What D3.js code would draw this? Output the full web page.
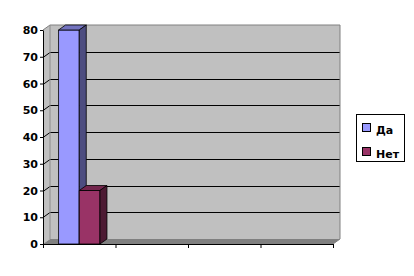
<!DOCTYPE html>
<html>
<head>
<meta charset="utf-8">
<script src="https://cdn.jsdelivr.net/npm/d3@7"></script>
<style>
  html, body { margin: 0; padding: 0; background: #fff; }
  svg { display: block; }
</style>
</head>
<body>
<script>
const WIDTH = 414
const HEIGHT = 276

// Data
const categories = [1, 2, 3, 4]
const series = ["Да", "Нет"]
const daValues = [80, null, null, null]
const netValues = [20, null, null, null]
const yTicks = [0, 10, 20, 30, 40, 50, 60, 70, 80]

const colors = {
  "Да": { front: "#9999ff", top: "#7373bf", side: "#4d4d80" },
  "Нет": { front: "#993366", top: "#73264d", side: "#4d1a33" }
}

// Constants
const margin = { top: 30, right: 81, bottom: 32, left: 43 }
const depthX = 7
const depthY = 5
const font = "'DejaVu Sans', Arial, sans-serif"

const x0 = d3.scaleBand(categories, [margin.left, WIDTH - margin.right])
const x1 = d3.scaleBand(series, [0, x0.bandwidth()]).paddingOuter(0.75)
const xEdge = d3.scaleLinear([0, categories.length], [margin.left, WIDTH - margin.right])
const y = d3.scaleLinear([0, 80], [HEIGHT - margin.bottom, margin.top])

const rows = series.flatMap((s, si) => categories.map((c, ci) => ({
  s, c, v: (si === 0 ? daValues : netValues)[ci]
}))).filter(d => d.v != null)

// Render
const svg = d3.select("body").append("svg")
  .attr("width", WIDTH)
  .attr("height", HEIGHT)
  .attr("viewBox", [0, 0, WIDTH, HEIGHT])

const x0L = xEdge(0), x0R = xEdge(categories.length)
const yB = y(0), yT = y(80)

// walls
svg.append("polygon")
  .attr("points", [[x0L, yB], [x0L, yT], [x0L + depthX, yT - depthY], [x0L + depthX, yB - depthY]].join(" "))
  .attr("fill", "#c0c0c0")

svg.append("rect")
  .attr("x", x0L + depthX)
  .attr("y", yT - depthY)
  .attr("width", x0R - x0L)
  .attr("height", yB - yT)
  .attr("fill", "#c0c0c0")

svg.append("polygon")
  .attr("points", [[x0L, yB], [x0L + depthX, yB - depthY], [x0R + depthX, yB - depthY], [x0R, yB]].join(" "))
  .attr("fill", "#808080")

// gridlines
svg.append("g")
  .attr("fill", "none")
  .attr("stroke", "#000")
  .selectAll("polyline")
  .data(yTicks.filter(t => t > 0 && t < 80))
  .join("polyline")
    .attr("points", t => {
      const yy = Math.round(y(t)) + 0.5
      return [[x0L, yy], [x0L + depthX, yy - depthY], [x0R + depthX, yy - depthY]].join(" ")
    })

// wall borders
svg.append("polyline")
  .attr("points", [[x0L, yT], [x0L + depthX, yT - depthY], [x0R + depthX, yT - depthY], [x0R + depthX, yB - depthY], [x0R, yB]].join(" "))
  .attr("fill", "none")
  .attr("stroke", "#808080")

svg.append("line")
  .attr("x1", x0L + depthX).attr("x2", x0L + depthX)
  .attr("y1", yT - depthY).attr("y2", yB - depthY)
  .attr("stroke", "#8c8c8c")

// bars
const bars = svg.append("g")
  .attr("stroke", "#000")
  .attr("stroke-width", 0.8)
  .attr("stroke-linejoin", "round")
  .selectAll("g")
  .data(rows)
  .join("g")

const bx = d => x0(d.c) + x1(d.s)
const bw = x1.bandwidth()

bars.append("rect")
  .attr("x", bx)
  .attr("y", d => y(d.v))
  .attr("width", bw)
  .attr("height", d => y(0) - y(d.v))
  .attr("fill", d => colors[d.s].front)

bars.append("polygon")
  .attr("points", d => [[bx(d), y(d.v)], [bx(d) + depthX, y(d.v) - depthY], [bx(d) + bw + depthX, y(d.v) - depthY], [bx(d) + bw, y(d.v)]].join(" "))
  .attr("fill", d => colors[d.s].top)

bars.append("polygon")
  .attr("points", d => [[bx(d) + bw, y(d.v)], [bx(d) + bw + depthX, y(d.v) - depthY], [bx(d) + bw + depthX, y(0) - depthY], [bx(d) + bw, y(0)]].join(" "))
  .attr("fill", d => colors[d.s].side)

// axes
svg.append("g")
  .attr("transform", `translate(${x0L},0)`)
  .call(d3.axisLeft(y).tickValues(yTicks).tickSize(3).tickSizeOuter(0).tickPadding(2))
  .call(g => g.selectAll("text")
    .attr("font-family", font)
    .attr("font-size", 11)
    .attr("font-weight", "bold")
    .attr("fill", "#000"))
  .call(g => g.selectAll("line, path").attr("stroke", "#000"))

svg.append("g")
  .attr("transform", `translate(0,${yB})`)
  .call(d3.axisBottom(xEdge).ticks(categories.length).tickFormat("").tickSize(4).tickSizeOuter(0))
  .call(g => g.selectAll("line, path").attr("stroke", "#000"))

// legend
const legend = svg.append("g")
  .attr("transform", "translate(356,114)")

legend.append("rect")
  .attr("x", 0.5).attr("y", 0.5)
  .attr("width", 48).attr("height", 47)
  .attr("fill", "#fff")
  .attr("stroke", "#000")

const item = legend.selectAll("g.item")
  .data(series)
  .join("g")
    .attr("class", "item")
    .attr("transform", (d, i) => `translate(0,${9 + i * 24})`)

item.append("rect")
  .attr("x", 6.5).attr("y", 0.5)
  .attr("width", 8).attr("height", 8)
  .attr("fill", d => colors[d].front)
  .attr("stroke", "#000")

item.append("text")
  .attr("x", 20)
  .attr("y", 11)
  .attr("font-family", font)
  .attr("font-size", 11)
  .attr("font-weight", "bold")
  .text(d => d)
</script>
</body>
</html>
